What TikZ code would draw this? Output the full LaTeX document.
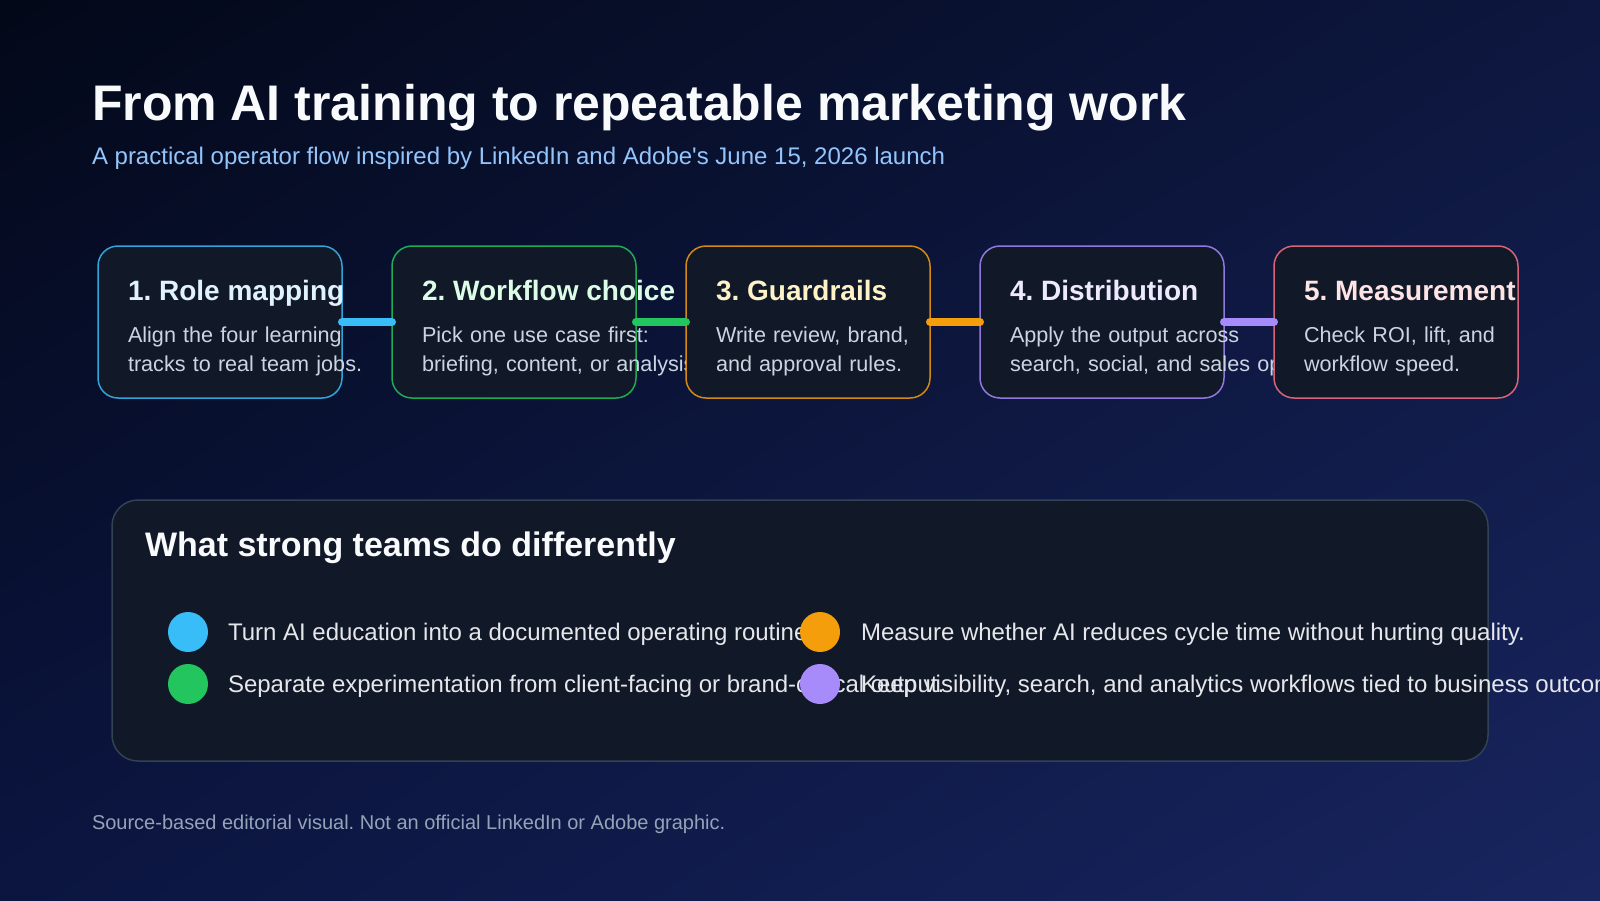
\documentclass[tikz,border=0pt]{standalone}
\usepackage{fontspec}
\setmainfont{Liberation Sans}
\usetikzlibrary{positioning,shadings}

\definecolor{bgnw}{HTML}{030818}
\definecolor{bgne}{HTML}{0D173F}
\definecolor{bgsw}{HTML}{0B1540}
\definecolor{bgse}{HTML}{18255F}
\definecolor{cardfill}{HTML}{111827}
\definecolor{panelline}{HTML}{334155}
\definecolor{sky}{HTML}{38BDF8}
\definecolor{leaf}{HTML}{22C55E}
\definecolor{amber}{HTML}{F59E0B}
\definecolor{violet}{HTML}{A78BFA}
\definecolor{rose}{HTML}{FB7185}
\definecolor{skytint}{HTML}{E0F2FE}
\definecolor{leaftint}{HTML}{DCFCE7}
\definecolor{ambertint}{HTML}{FEF3C7}
\definecolor{violettint}{HTML}{EDE9FE}
\definecolor{rosetint}{HTML}{FFE4E6}
\definecolor{bodygray}{HTML}{CBD5E1}
\definecolor{tipgray}{HTML}{E5E7EB}
\definecolor{subblue}{HTML}{93C5FD}
\definecolor{notegray}{HTML}{94A3B8}
\definecolor{headwhite}{HTML}{F8FAFC}

\begin{document}
\frenchspacing
\begin{tikzpicture}[x=1pt,y=-1pt,
			every node/.style={inner sep=0pt,outer sep=0pt},
			stepbox/.style={
				rounded corners=20pt,
				line width=1.5pt,
				draw opacity=0.85,
				fill=cardfill,
				minimum width=244pt,
				minimum height=152pt},
			steptitle/.style={anchor=base west,font=\fontsize{28}{32}\selectfont\bfseries},
			stepbody/.style={anchor=base west,align=left,text width=400pt,text=bodygray,
				font=\fontsize{21.6}{29.5}\selectfont},
			flowlink/.style={line width=8pt,line cap=round},
			tipdot/.style={circle,minimum size=40pt},
			tiptext/.style={anchor=base west,text=tipgray,font=\fontsize{24}{28}\selectfont}]
			
			\useasboundingbox (0,0) rectangle (1600,900);
			\shade[upper left=bgnw,upper right=bgne,lower left=bgsw,lower right=bgse] (0,0) rectangle (1600,900);
			
			\node (headline) [anchor=base west,text=headwhite,font=\fontsize{50}{60}\selectfont\bfseries] at (92,120) {From AI training to repeatable marketing work};
			\node (subline) [anchor=base west,text=subblue,font=\fontsize{24}{28}\selectfont] at (92,164) {A practical operator flow inspired by LinkedIn and Adobe\textquotesingle s June 15, 2026 launch};
			
			% flow of steps
			\node (role) [stepbox,draw=sky] at (220,322) {};
			\node (roletitle) [steptitle,text=skytint] at ([shift={(30,-22)}]role.west) {1. Role mapping};
			\node (rolebody) [stepbody] at ([shift={(30,20)}]role.west) {Align the four learning\\tracks to real team jobs.};
			
			\node (choice) [stepbox,draw=leaf,right=50pt of role] {};
			\node (choicetitle) [steptitle,text=leaftint] at ([shift={(30,-22)}]choice.west) {2. Workflow choice};
			\node (choicebody) [stepbody] at ([shift={(30,20)}]choice.west) {Pick one use case first:\\briefing, content, or analysis.};
			
			\node (guard) [stepbox,draw=amber,right=50pt of choice] {};
			\node (guardtitle) [steptitle,text=ambertint] at ([shift={(30,-22)}]guard.west) {3. Guardrails};
			\node (guardbody) [stepbody] at ([shift={(30,20)}]guard.west) {Write review, brand,\\and approval rules.};
			
			\node (dist) [stepbox,draw=violet,right=50pt of guard] {};
			\node (disttitle) [steptitle,text=violettint] at ([shift={(30,-22)}]dist.west) {4. Distribution};
			\node (distbody) [stepbody] at ([shift={(30,20)}]dist.west) {Apply the output across\\search, social, and sales ops.};
			
			\node (measure) [stepbox,draw=rose,right=50pt of dist] {};
			\node (measuretitle) [steptitle,text=rosetint] at ([shift={(30,-22)}]measure.west) {5. Measurement};
			\node (measurebody) [stepbody] at ([shift={(30,20)}]measure.west) {Check ROI, lift, and\\workflow speed.};
			
			\draw[flowlink,sky] (role.east)--(choice.west);
			\draw[flowlink,leaf] (choice.east)--(guard.west);
			\draw[flowlink,amber] (guard.east)--(dist.west);
			\draw[flowlink,violet] (dist.east)--(measure.west);
			
			% habits panel
			\node (teams) [rounded corners=26pt,line width=1.5pt,draw=panelline,fill=cardfill,
				minimum width=1376pt,minimum height=261pt] at (800,630.5) {};
			\node (teamstitle) [anchor=base west,text=headwhite,font=\fontsize{34}{40}\selectfont\bfseries] at ([shift={(33,56)}]teams.north west) {What strong teams do differently};
			
			\node (tipa) [tipdot,fill=sky] at ([shift={(76,132)}]teams.north west) {};
			\node (tipatext) [tiptext] at ([shift={(40,8)}]tipa.center) {Turn AI education into a documented operating routine.};
			
			\node (tipb) [tipdot,fill=leaf,below=12pt of tipa] {};
			\node (tipbtext) [tiptext] at ([shift={(40,8)}]tipb.center) {Separate experimentation from client-facing or brand-critical output.};
			
			\node (tipc) [tipdot,fill=amber,right=592pt of tipa] {};
			\node (tipctext) [tiptext] at ([shift={(41,8)}]tipc.center) {Measure whether AI reduces cycle time without hurting quality.};
			
			\node (tipd) [tipdot,fill=violet,below=12pt of tipc] {};
			\node (tipdtext) [tiptext] at ([shift={(41,8)}]tipd.center) {Keep visibility, search, and analytics workflows tied to business outcomes.};
			
			\node (credit) [anchor=base west,text=notegray,font=\fontsize{20}{24}\selectfont] at (92,829) {Source-based editorial visual. Not an official LinkedIn or Adobe graphic.};
			
		\end{tikzpicture}
\end{document}
